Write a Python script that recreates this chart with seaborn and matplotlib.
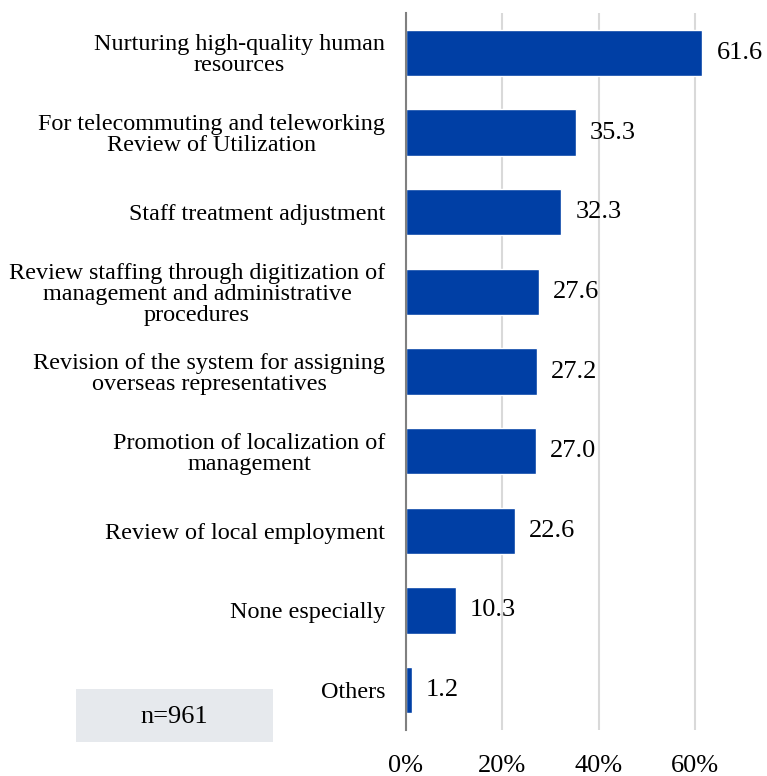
import matplotlib
matplotlib.use("Agg")
import matplotlib.pyplot as plt
import seaborn as sns
import pandas as pd

# Survey responses (% of respondents, n=961)
categories = [
    "Nurturing high-quality human\nresources",
    "For telecommuting and teleworking\nReview of Utilization",
    "Staff treatment adjustment",
    "Review staffing through digitization of\nmanagement and administrative\nprocedures",
    "Revision of the system for assigning\noverseas representatives",
    "Promotion of localization of\nmanagement",
    "Review of local employment",
    "None especially",
    "Others",
]
values = [61.6, 35.3, 32.3, 27.6, 27.2, 27.0, 22.6, 10.3, 1.2]
x_ticks = [0, 20, 40, 60]
x_tick_labels = ["0%", "20%", "40%", "60%"]
sample_note = "n=961"

df = pd.DataFrame({"category": categories, "value": values})

sns.set_theme(style="white")
plt.rcParams["font.family"] = ["Liberation Serif", "DejaVu Serif"]
plt.rcParams["text.color"] = "black"
plt.rcParams["xtick.color"] = "black"
plt.rcParams["ytick.color"] = "black"

BAR_COLOR = "#003FA5"

fig = plt.figure(figsize=(7.67, 7.76), dpi=100)
ax = fig.add_axes([0.5293, 0.0593, 0.4707, 0.9239])

sns.barplot(data=df, x="value", y="category", orient="h", color=BAR_COLOR,
            saturation=1, width=0.58, ax=ax)

ax.set_xlim(0, 75)
ax.set_ylim(8.5, -0.5)
ax.set_xticks(x_ticks)
ax.set_xticklabels(x_tick_labels, fontsize=19)
ax.tick_params(axis="x", length=0, pad=18, labelcolor="black")
ax.tick_params(axis="y", length=0, pad=15, labelcolor="black")
ax.set_xlabel("")
ax.set_ylabel("")

for lbl in ax.get_yticklabels():
    lbl.set_fontsize(17.4)
    lbl.set_multialignment("center")
    lbl.set_linespacing(1.0)

ax.grid(axis="x", color="#D9D9D9", linewidth=1.5)
ax.set_axisbelow(True)
for side in ["top", "right", "bottom"]:
    ax.spines[side].set_visible(False)
ax.spines["left"].set_color("#808080")
ax.spines["left"].set_linewidth(1.5)
ax.spines["left"].set_zorder(5)

for cont in ax.containers:
    ax.bar_label(cont, labels=[f"{v:.1f}" for v in values], padding=10,
                 fontsize=19, color="black")

# Sample size box
fig.patches.append(plt.Rectangle((76 / 767, 1 - 742 / 776), 197 / 767, 53 / 776,
                                 transform=fig.transFigure, facecolor="#E6E9ED",
                                 edgecolor="none", zorder=0))
fig.text(174 / 767, 1 - 717 / 776, sample_note, ha="center", va="center",
         fontsize=19, color="black")

fig.savefig("out.png", dpi=100)
